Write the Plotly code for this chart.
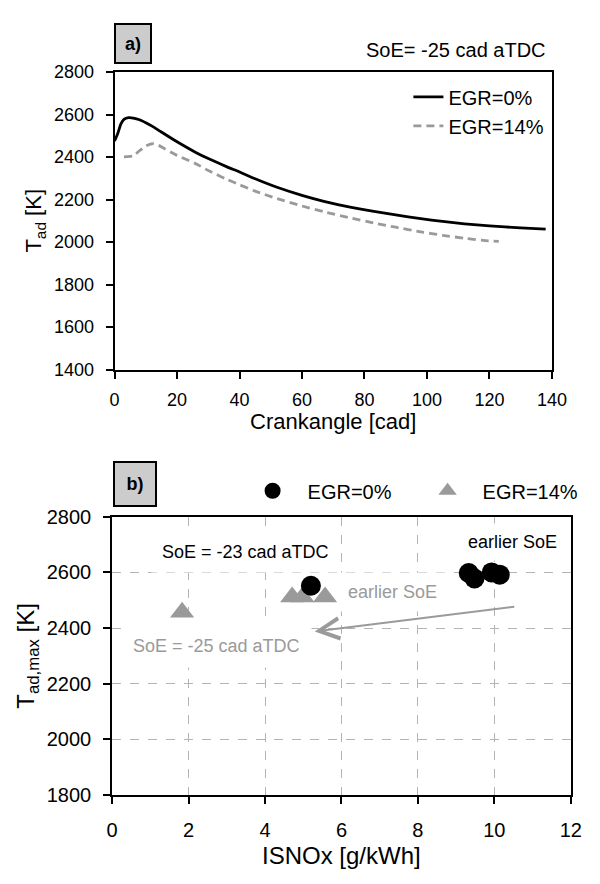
import plotly.graph_objects as go

FONT = "Liberation Sans, Arial, sans-serif"

# ---- panel a) data ----
crank_egr0 = [0, 1, 2, 3, 4.5, 6, 8, 10, 12, 15, 20, 26, 30, 36, 40, 45, 52, 60, 67, 75, 83, 90, 98, 105, 112, 120, 130, 138]
tad_egr0 = [2476, 2510, 2555, 2578, 2586, 2584, 2576, 2562, 2546, 2518, 2472, 2422, 2393, 2354, 2330, 2298, 2258, 2220, 2192, 2166, 2145, 2128, 2110, 2097, 2086, 2076, 2067, 2061]
crank_egr14 = [3, 4, 6, 8, 10, 12, 14, 16, 20, 26, 30, 36, 40, 45, 52, 60, 67, 75, 83, 90, 98, 105, 112, 118, 123]
tad_egr14 = [2401, 2402, 2406, 2430, 2452, 2463, 2456, 2440, 2408, 2369, 2337, 2295, 2270, 2240, 2205, 2170, 2143, 2115, 2090, 2070, 2048, 2032, 2018, 2008, 2003]

# ---- panel b) data ----
isnox_egr0 = [5.2, 9.33, 9.48, 9.93, 10.14]
tmax_egr0 = [2552, 2598, 2578, 2600, 2592]
isnox_egr14 = [1.83, 4.71, 4.98, 5.57]
tmax_egr14 = [2457, 2512, 2512, 2512]

arrow_start = (10.56, 2477)
arrow_end = (5.30, 2388)

GREY = "#9a9a9a"
W, H = 600, 884


def px(x):
    return x / W


def py(y):
    return 1 - y / H


fig = go.Figure()

fig.add_trace(go.Scatter(x=crank_egr0, y=tad_egr0, mode="lines", name="EGR=0%",
                         line=dict(color="black", width=2.8, shape="spline", smoothing=0.6),
                         xaxis="x", yaxis="y", legend="legend"))
fig.add_trace(go.Scatter(x=crank_egr14, y=tad_egr14, mode="lines", name="EGR=14%",
                         line=dict(color=GREY, width=2.8, dash="8px,5px", shape="spline", smoothing=0.6),
                         xaxis="x", yaxis="y", legend="legend"))

fig.add_trace(go.Scatter(x=isnox_egr14, y=tmax_egr14, mode="markers", name="EGR=14%",
                         marker=dict(symbol="triangle-up", size=21, color=GREY),
                         xaxis="x2", yaxis="y2", legend="legend2", legendrank=2))
fig.add_trace(go.Scatter(x=isnox_egr0, y=tmax_egr0, mode="markers", name="EGR=0%",
                         marker=dict(symbol="circle", size=20, color="black"),
                         xaxis="x2", yaxis="y2", legend="legend2", legendrank=1))

axis_common = dict(showline=True, linecolor="black", linewidth=2, mirror=True,
                   ticks="outside", ticklen=7, tickwidth=2, tickcolor="black",
                   zeroline=False)

fig.update_layout(
    width=W, height=H,
    margin=dict(l=0, r=0, t=0, b=0),
    paper_bgcolor="white", plot_bgcolor="white",
    font=dict(family=FONT, color="black"),
    xaxis=dict(domain=[px(112.5), px(565.7)], range=[0, 140], dtick=20, showgrid=False,
               tickfont=dict(size=18), anchor="y", ticklabelstandoff=6, **axis_common),
    yaxis=dict(domain=[py(367.7), py(62.7)], range=[1400, 2800], dtick=200, showgrid=False,
               tickfont=dict(size=18), anchor="x", ticklabelstandoff=8, **axis_common),
    xaxis2=dict(domain=[px(110), px(585.3)], range=[0, 12], dtick=2, showgrid=True,
                gridcolor="#b4b4b4", griddash="dash", gridwidth=1,
                tickfont=dict(size=20), anchor="y2", ticklabelstandoff=9, **axis_common),
    yaxis2=dict(domain=[py(804), py(518.7)], range=[1800, 2800], dtick=200, showgrid=True,
                gridcolor="#b4b4b4", griddash="dash", gridwidth=1,
                tickfont=dict(size=20), anchor="x2", ticklabelstandoff=8, **axis_common),
    legend=dict(x=px(417), y=py(68), xanchor="left", yanchor="top",
                font=dict(size=20), bgcolor="rgba(0,0,0,0)", tracegroupgap=0),
    legend2=dict(x=px(240), y=py(492), xanchor="left", yanchor="middle",
                 orientation="h", font=dict(size=20), bgcolor="rgba(0,0,0,0)",
                 itemwidth=60, entrywidth=100, entrywidthmode="pixels"),
    showlegend=True,
)


def note(text, x, y, size, color="black", **kw):
    d = dict(text=text, xref="paper", yref="paper", x=px(x), y=py(y),
             xanchor="center", yanchor="middle", showarrow=False,
             font=dict(size=size, color=color))
    d.update(kw)
    return d


ann = [
    note("<b>a)</b>", 132, 33.5, 18, bgcolor="#cccccc", bordercolor="black",
         borderwidth=2, width=34, height=37, borderpad=0),
    note("<b>b)</b>", 134, 485, 18, bgcolor="#cccccc", bordercolor="black",
         borderwidth=2, width=40, height=42, borderpad=0),
    note("SoE= -25 cad aTDC", 466, 40, 20),
    note("Crankangle [cad]", 339, 421, 22),
    note("T<sub>ad</sub> [K]", 30, 215, 22, textangle=-90),
    note("ISNOx [g/kWh]", 348, 866, 24),
    note("T<sub>ad,max</sub> [K]", 22, 661, 24, textangle=-90),
    note("SoE = -23 cad aTDC", 248, 555, 18, bgcolor="white", borderpad=10),
    note("earlier SoE", 525, 545, 18, bgcolor="white", borderpad=8),
    note("earlier SoE", 400, 596, 18, color=GREY, bgcolor="white", borderpad=9),
    note("SoE = -25 cad aTDC", 218, 651, 18, color=GREY, bgcolor="white", borderpad=11),
    dict(text="", xref="x2", yref="y2", x=arrow_end[0], y=arrow_end[1],
         axref="x2", ayref="y2", ax=arrow_start[0], ay=arrow_start[1],
         showarrow=True, arrowhead=5, arrowsize=2, arrowwidth=2, arrowcolor=GREY),
]
fig.update_layout(annotations=ann)

fig.write_html("out.html")
